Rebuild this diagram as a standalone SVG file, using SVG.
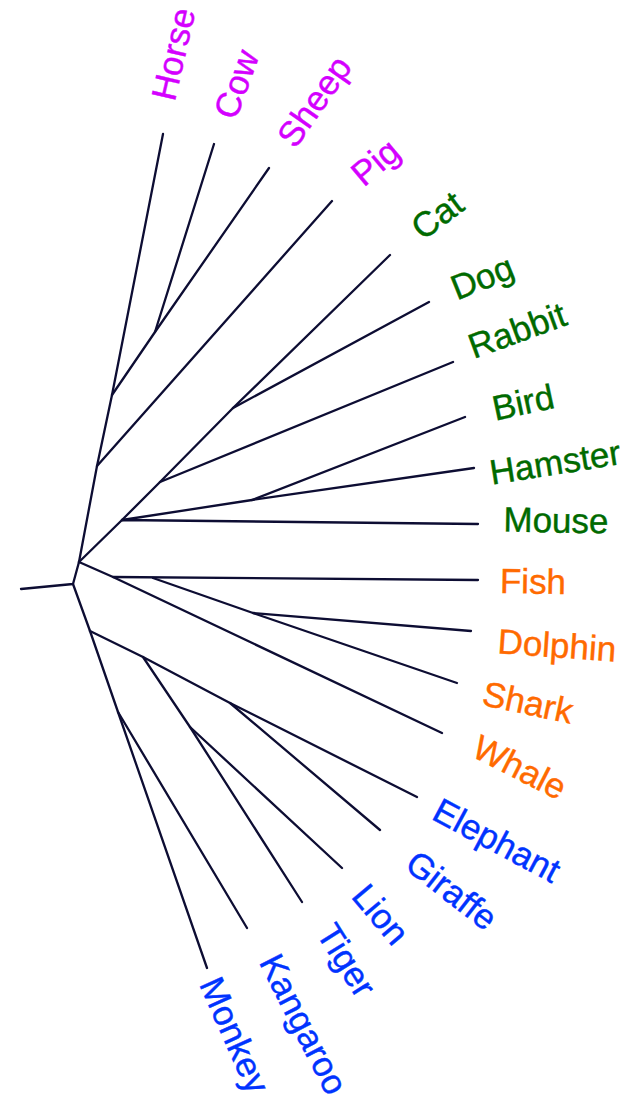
<svg xmlns="http://www.w3.org/2000/svg" width="635" height="1101" viewBox="0 0 635 1101">
<style>
.e{stroke:#0d0d33;stroke-width:2.3;fill:none;stroke-linecap:round;stroke-linejoin:round}
text{font-family:"Liberation Sans",Arial,sans-serif;font-size:35px;text-anchor:middle;dominant-baseline:central;stroke-width:0.4}
.m{fill:#d400ff;stroke:#d400ff}.g{fill:#006a00;stroke:#006a00}.o{fill:#ff6a00;stroke:#ff6a00}.b{fill:#0033ff;stroke:#0033ff}
</style>
<rect width="635" height="1101" fill="#ffffff"/>
<g id="connectors" class="e">
<path d="M21,589 L73,584 L79,562"/>
<path d="M73,584 L90,631"/>
<path d="M79,562 L97,466 L112,395 L163,134"/>
<path d="M112,395 L155,332 L269,168"/>
<path d="M155,332 L214,144"/>
<path d="M97,466 L332,201"/>
<path d="M79,562 L122,520 L478,524"/>
<path d="M122,520 L252,500 L474,468"/>
<path d="M252,500 L465,417"/>
<path d="M122,520 L160,482 L453,362"/>
<path d="M160,482 L233,408 L390,255"/>
<path d="M233,408 L429,302"/>
<path d="M79,562 L113,577 L442,733"/>
<path d="M113,577 L478,580"/>
<path d="M153,578 L253,613 L457,683"/>
<path d="M253,613 L471,631"/>
<path d="M90,631 L143,657 L230,703 L417,797"/>
<path d="M230,703 L380,830"/>
<path d="M143,657 L190,727 L302,902"/>
<path d="M190,727 L342,868"/>
<path d="M90,631 L118,712 L207,968"/>
<path d="M118,712 L247,928"/>
</g>
<g id="horse"><text class="m" transform="translate(173,54) rotate(-77)">Horse</text></g>
<g id="cow"><text class="m" transform="translate(236,84) rotate(-70)">Cow</text></g>
<g id="sheep"><text class="m" transform="translate(314,101) rotate(-55)">Sheep</text></g>
<g id="pig"><text class="m" transform="translate(375,162) rotate(-40)">Pig</text></g>
<g id="cat"><text class="g" transform="translate(437,215) rotate(-37)">Cat</text></g>
<g id="dog"><text class="g" transform="translate(482,277) rotate(-22)">Dog</text></g>
<g id="rabbit"><text class="g" transform="translate(517,330) rotate(-20)">Rabbit</text></g>
<g id="bird"><text class="g" transform="translate(523,402) rotate(-12)">Bird</text></g>
<g id="hamster"><text class="g" transform="translate(555,462) rotate(-9)">Hamster</text></g>
<g id="mouse"><text class="g" transform="translate(556,520) rotate(1)">Mouse</text></g>
<g id="fish"><text class="o" transform="translate(533,581) rotate(1)">Fish</text></g>
<g id="dolphin"><text class="o" transform="translate(557,645) rotate(4)">Dolphin</text></g>
<g id="shark"><text class="o" transform="translate(528,702) rotate(12)">Shark</text></g>
<g id="whale"><text class="o" transform="translate(520,767) rotate(27)">Whale</text></g>
<g id="elephant"><text class="b" transform="translate(497,840) rotate(28)">Elephant</text></g>
<g id="giraffe"><text class="b" transform="translate(452,890) rotate(38)">Giraffe</text></g>
<g id="lion"><text class="b" transform="translate(381,914) rotate(50)">Lion</text></g>
<g id="tiger"><text class="b" transform="translate(347,960) rotate(58)">Tiger</text></g>
<g id="kangaroo"><text class="b" transform="translate(304,1024) rotate(63)">Kangaroo</text></g>
<g id="monkey"><text class="b" transform="translate(235,1035) rotate(66)">Monkey</text></g>
</svg>
